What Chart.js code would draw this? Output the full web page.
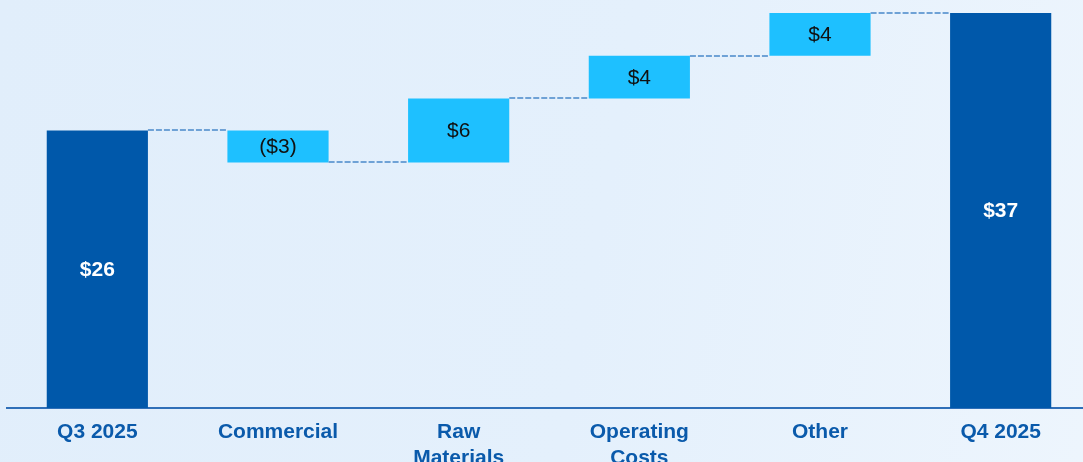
<!DOCTYPE html>
<html>
<head>
<meta charset="utf-8">
<script src="https://cdn.jsdelivr.net/npm/chart.js@4/dist/chart.umd.min.js"></script>
<style>
  html, body { margin: 0; padding: 0; overflow: hidden; }
  body {
    width: 1083px; height: 462px;
    background: linear-gradient(100deg, #e1eefb 0%, #e4f0fc 55%, #edf5fd 100%);
  }
  #wrap { position: absolute; left: 0; top: 0; width: 1091px; height: 462px; }
</style>
</head>
<body>
<div id="wrap"><canvas id="bridge"></canvas></div>
<script>
// categories and values
let categories = ['Q3 2025', 'Commercial', ['Raw', 'Materials'], ['Operating', 'Costs'], 'Other', 'Q4 2025'];
let startTotal = 26;
let deltas = [-3, 6, 4, 4];   // Commercial, Raw Materials, Operating Costs, Other
let endTotal = 37;

let darkBlue = '#0058aa';
let lightBlue = '#1ec0ff';

// build floating bars [from, to]
let floating = [[0, startTotal]];
let levels = [startTotal];
let running = startTotal;
deltas.forEach(d => {
  floating.push([running, running + d]);
  running += d;
  levels.push(running);
});
floating.push([0, endTotal]);

let values = [startTotal].concat(deltas, [endTotal]);
let isTotal = values.map((v, i) => i === 0 || i === values.length - 1);
let colors = isTotal.map(t => t ? darkBlue : lightBlue);

function fmt(v) {
  return v < 0 ? '($' + Math.abs(v) + ')' : '$' + v;
}

// value text in the middle of each bar + dashed connectors
let bridgePlugin = {
  id: 'bridge',
  afterDatasetsDraw(chart) {
    let ctx = chart.ctx;
    let meta = chart.getDatasetMeta(0);
    let y = chart.scales.y;

    ctx.save();
    ctx.strokeStyle = '#6fa2d6';
    ctx.lineWidth = 2;
    ctx.setLineDash([6, 2]);
    for (let i = 0; i < meta.data.length - 1; i++) {
      let a = meta.data[i], b = meta.data[i + 1];
      let py = Math.round(y.getPixelForValue(levels[i]));
      ctx.beginPath();
      ctx.moveTo(a.x + a.width / 2, py);
      ctx.lineTo(b.x - b.width / 2, py);
      ctx.stroke();
    }
    ctx.restore();

    ctx.save();
    ctx.textAlign = 'center';
    ctx.textBaseline = 'middle';
    meta.data.forEach((bar, i) => {
      let cy = (bar.y + bar.base) / 2;
      if (isTotal[i]) {
        ctx.fillStyle = '#ffffff';
        ctx.font = 'bold 21px "Liberation Sans", Arial, sans-serif';
      } else {
        ctx.fillStyle = '#111111';
        ctx.font = '21px "Liberation Sans", Arial, sans-serif';
      }
      ctx.fillText(fmt(values[i]), bar.x, cy + 1);
    });
    ctx.restore();
  }
};

let ctx = document.getElementById('bridge').getContext('2d');

let bridgeChart = new Chart(ctx, {
  type: 'bar',
  data: {
    labels: categories,
    datasets: [{
      data: floating,
      backgroundColor: colors,
      borderWidth: 0,
      borderSkipped: false,
      categoryPercentage: 1,
      barPercentage: 0.56,
    }]
  },
  options: {
    responsive: true,
    maintainAspectRatio: false,
    animation: false,
    devicePixelRatio: 1,
    layout: {
      padding: { top: 13, left: 7, right: 0, bottom: 0 }
    },
    plugins: {
      legend: { display: false },
      tooltip: { enabled: false },
      title: { display: false },
    },
    scales: {
      x: {
        offset: true,
        grid: { display: false, drawTicks: false },
        border: { display: true, color: '#2f6fb8', width: 2 },
        ticks: {
          padding: 12,
          color: '#0a5aab',
          maxRotation: 0,
          autoSkip: false,
          font: { family: '"Liberation Sans", Arial, sans-serif', size: 21, weight: 'bold', lineHeight: 1.2 },
        },
        afterFit(scale) { scale.height = 54; }
      },
      y: {
        display: false,
        min: 0,
        max: 37,
      }
    }
  },
  plugins: [bridgePlugin]
});
</script>
</body>
</html>
